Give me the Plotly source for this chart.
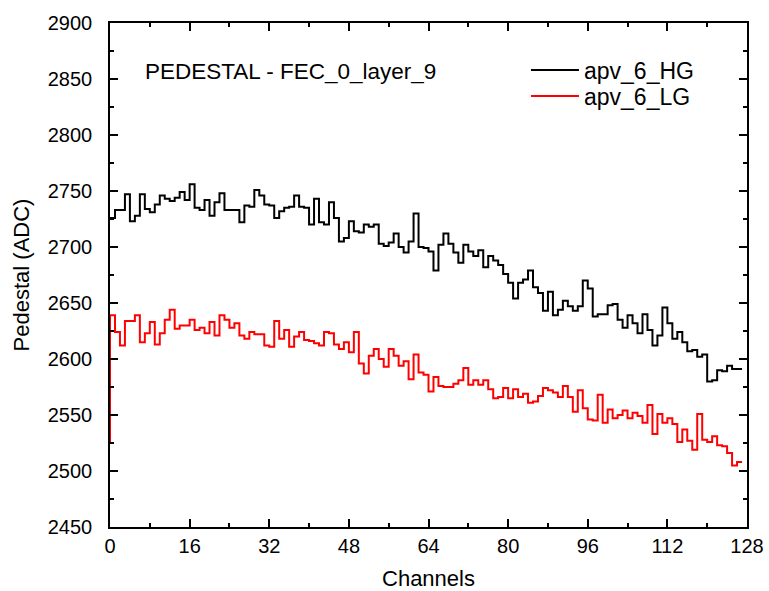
import numpy as np
import plotly.graph_objects as go

# Pedestal per APV channel (ADC counts); value k is the level drawn on channel interval k
channels = list(range(128))

hg_pedestal = [
    2726, 2726, 2733, 2733, 2747, 2723, 2728, 2747, 2734, 2731, 2738, 2746, 2743, 2741, 2744, 2749,
    2742, 2756, 2735, 2733, 2742, 2728, 2740, 2748, 2733, 2733, 2733, 2722, 2737, 2736, 2751, 2746,
    2738, 2737, 2726, 2732, 2735, 2736, 2746, 2736, 2735, 2720, 2743, 2722, 2720, 2740, 2726, 2705,
    2708, 2723, 2714, 2713, 2720, 2718, 2720, 2703, 2701, 2704, 2712, 2700, 2695, 2705, 2730, 2700,
    2699, 2696, 2679, 2702, 2712, 2703, 2695, 2686, 2702, 2696, 2692, 2697, 2682, 2692, 2688, 2684,
    2676, 2668, 2654, 2668, 2671, 2679, 2664, 2659, 2643, 2660, 2639, 2644, 2652, 2647, 2643, 2647,
    2670, 2663, 2638, 2640, 2640, 2648, 2649, 2635, 2628, 2639, 2632, 2623, 2640, 2626, 2612, 2621,
    2646, 2632, 2618, 2624, 2615, 2607, 2608, 2602, 2604, 2580, 2581, 2590, 2589, 2594, 2591, 2591,
]

lg_pedestal = [
    2525, 2639, 2624, 2612, 2634, 2634, 2639, 2615, 2623, 2633, 2613, 2623, 2635, 2644, 2627, 2630,
    2630, 2635, 2626, 2628, 2623, 2633, 2621, 2639, 2635, 2628, 2632, 2621, 2618, 2624, 2622, 2622,
    2612, 2611, 2634, 2618, 2626, 2611, 2620, 2624, 2617, 2616, 2614, 2612, 2624, 2623, 2613, 2609,
    2615, 2606, 2624, 2596, 2587, 2603, 2609, 2600, 2593, 2609, 2603, 2594, 2598, 2582, 2604, 2588,
    2586, 2571, 2584, 2576, 2575, 2575, 2578, 2581, 2592, 2577, 2581, 2577, 2581, 2573, 2565, 2566,
    2574, 2565, 2573, 2566, 2569, 2561, 2562, 2567, 2574, 2572, 2570, 2566, 2576, 2566, 2553, 2572,
    2556, 2546, 2545, 2568, 2543, 2555, 2547, 2550, 2554, 2547, 2552, 2549, 2543, 2559, 2533, 2551,
    2543, 2547, 2542, 2526, 2537, 2527, 2519, 2551, 2528, 2526, 2531, 2523, 2522, 2516, 2505, 2508,
]

title_text = "PEDESTAL - FEC_0_layer_9"
x_ticks = [0, 16, 32, 48, 64, 80, 96, 112, 128]
y_ticks = list(range(2450, 2901, 50))

FONT = "Liberation Sans, Arial, sans-serif"

fig = go.Figure()
fig.add_trace(go.Scatter(
    x=channels, y=hg_pedestal, mode="lines", name="apv_6_HG", legend="legend",
    line=dict(color="black", width=2, shape="vh"),
))
fig.add_trace(go.Scatter(
    x=channels, y=lg_pedestal, mode="lines", name="apv_6_LG", legend="legend2",
    line=dict(color="#ff0000", width=2, shape="vh"),
))

axis_common = dict(
    showline=True, linecolor="black", linewidth=1.5, mirror="ticks",
    ticks="inside", ticklen=8, tickwidth=1.5, tickcolor="black",
    showgrid=False, zeroline=False, automargin=False,
    tickfont=dict(family=FONT, size=20, color="black"),
)

fig.update_xaxes(
    range=[0, 128], tickvals=x_ticks, ticktext=[str(v) for v in x_ticks],
    minor=dict(ticks="inside", ticklen=4, tickwidth=1.5, tickcolor="black", dtick=8, tick0=0),
    title=dict(text="Channels", font=dict(family=FONT, size=22, color="black"), standoff=16),
    ticklabelstandoff=0,
    **axis_common,
)
fig.update_yaxes(
    range=[2450, 2900], tickvals=y_ticks, ticktext=[str(v) for v in y_ticks],
    minor=dict(ticks="inside", ticklen=4, tickwidth=1.5, tickcolor="black", dtick=25, tick0=2450),
    title=dict(text="Pedestal (ADC)", font=dict(family=FONT, size=22, color="black"), standoff=12),
    ticklabelstandoff=12,
    **axis_common,
)

fig.add_annotation(
    x=0.0518, y=0.903, xref="paper", yref="paper", xanchor="left", yanchor="middle",
    text=title_text, showarrow=False, font=dict(family=FONT, size=22.5, color="black"),
)

legend_style = dict(
    xanchor="left", yanchor="middle",
    bgcolor="rgba(0,0,0,0)", borderwidth=0,
    font=dict(family=FONT, size=23, color="black"),
    itemwidth=48,
)

fig.update_layout(
    width=769, height=591,
    margin=dict(l=110, r=22, t=23, b=64),
    paper_bgcolor="white", plot_bgcolor="white",
    showlegend=True,
    legend=dict(x=0.653, y=(527 - 70) / 504, **legend_style),
    legend2=dict(x=0.653, y=(527 - 96) / 504, **legend_style),
)

fig.write_html("out.html")
